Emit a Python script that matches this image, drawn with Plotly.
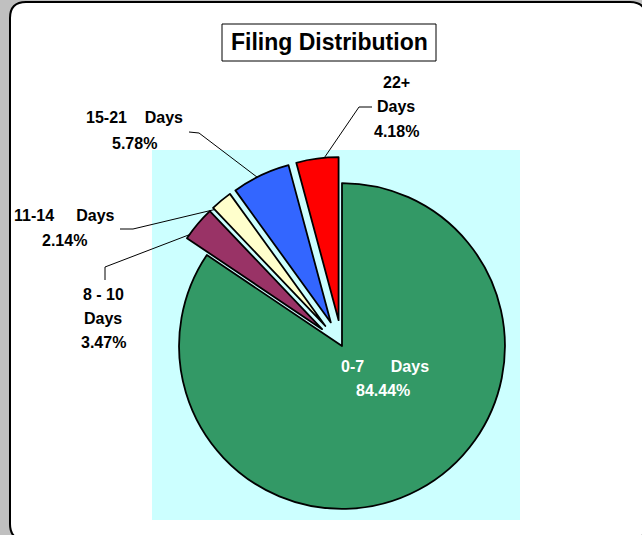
import math
import plotly.graph_objects as go

# ---------------- data ----------------
categories = ["0-7 Days", "8 - 10 Days", "11-14 Days", "15-21 Days", "22+ Days"]
values = [84.44, 3.47, 2.14, 5.78, 4.18]
colors = ["#339966", "#993366", "#FFFFCC", "#3366FF", "#FF0000"]
pulls = [0, 0.16, 0.16, 0.16, 0.16]
label_heads = [["0-7" + "\u00a0" * 6 + "Days"], ["8 - 10", "Days"], ["11-14" + "\u00a0" * 5 + "Days"],
               ["15-21" + "\u00a0" * 4 + "Days"], ["22+", "Days"]]
title_text = "Filing Distribution"

# ---------------- layout helpers ----------------
W, H = 642, 535
CX, CY = 342, 346           # pie centre in pixels
BOX_H = 2 * (H - CY)        # pie domain height (pixels)
BOX_W = 400


def px(x):
    return x / W


def py(y):
    return 1 - y / H


fig = go.Figure()
fig.add_trace(go.Pie(
    labels=categories, values=values, sort=False, direction="clockwise", rotation=0,
    marker=dict(colors=colors, line=dict(color="black", width=1.8)),
    pull=pulls, textinfo="none", hoverinfo="label+percent", showlegend=False,
    domain=dict(x=[px(CX - BOX_W / 2), px(CX + BOX_W / 2)], y=[0, BOX_H / H]),
))

R = min(BOX_W, BOX_H) / (2 + 2 * max(pulls))

shapes = []
# outer rounded frame
x0, x1, y0, y1, rc = 10, 646, 2, 540, 16
path = (f"M {px(x0)},{py(y0 + rc)} Q {px(x0)},{py(y0)} {px(x0 + rc)},{py(y0)} "
        f"L {px(x1 - rc)},{py(y0)} Q {px(x1)},{py(y0)} {px(x1)},{py(y0 + rc)} "
        f"L {px(x1)},{py(y1 - rc)} Q {px(x1)},{py(y1)} {px(x1 - rc)},{py(y1)} "
        f"L {px(x0 + rc)},{py(y1)} Q {px(x0)},{py(y1)} {px(x0)},{py(y1 - rc)} Z")
shapes.append(dict(type="path", xref="paper", yref="paper", path=path,
                   fillcolor="white", line=dict(color="black", width=2), layer="below"))
# plot area
shapes.append(dict(type="rect", xref="paper", yref="paper", x0=px(152), x1=px(520), y0=py(520), y1=py(150),
                   fillcolor="#CCFFFF", line=dict(width=0), layer="below"))
# title box
shapes.append(dict(type="rect", xref="paper", yref="paper", x0=px(222), x1=px(436), y0=py(61), y1=py(24),
                   fillcolor="white", line=dict(color="black", width=1), layer="below"))

# slice mid angles (clockwise from 12 o'clock)
total = sum(values)
mids = []
acc = 0
for v in values:
    mids.append((acc + v / 2) / total * 360)
    acc += v

# label placement (text line centres) and leader elbows
label_pos = {
    1: dict(x=103, y=[294, 318, 342], lead=[(105, 280), (105, 267)]),
    2: dict(x=64, y=[216, 240], lead=[(120, 229), (133, 229)]),
    3: dict(x=134, y=[118, 143], lead=[(189, 132), (199, 133)]),
    4: dict(x=396, y=[82, 107, 131], lead=[(372, 107), (359, 107)]),
}

annotations = []
font_lbl = dict(family="Liberation Sans, Arial, sans-serif", size=16, color="black", weight="bold")
for i, info in label_pos.items():
    lines = label_heads[i] + [f"{values[i]:.2f}%"]
    for t, yy in zip(lines, info["y"]):
        annotations.append(dict(xref="paper", yref="paper", x=px(info["x"]), y=py(yy), text=t,
                                showarrow=False, xanchor="center", yanchor="middle", font=font_lbl))
    th = math.radians(mids[i])
    dist = R * (1 + pulls[i]) - 8
    ex, ey = CX + dist * math.sin(th), CY - dist * math.cos(th)
    pts = info["lead"] + [(ex, ey)]
    p = "M " + " L ".join(f"{px(a)},{py(b)}" for a, b in pts)
    shapes.append(dict(type="path", xref="paper", yref="paper", path=p,
                       line=dict(color="black", width=1), layer="below"))

# label inside the big slice
font_in = dict(family="Liberation Sans, Arial, sans-serif", size=16, color="white", weight="bold")
for t, (xx, yy) in zip(label_heads[0] + [f"{values[0]:.2f}%"], [(385, 366), (383, 390)]):
    annotations.append(dict(xref="paper", yref="paper", x=px(xx), y=py(yy), text=t, showarrow=False,
                            xanchor="center", yanchor="middle", font=font_in))

# title
annotations.append(dict(xref="paper", yref="paper", x=px(329), y=py(42), text=title_text, showarrow=False,
                        xanchor="center", yanchor="middle",
                        font=dict(family="Liberation Sans, Arial, sans-serif", size=23, color="black",
                                  weight="bold")))

fig.update_layout(width=W, height=H, margin=dict(l=0, r=0, t=0, b=0),
                  paper_bgcolor="#C0C0C0", plot_bgcolor="#C0C0C0",
                  shapes=shapes, annotations=annotations, showlegend=False)
fig.write_html("out.html", config={"displayModeBar": False},
               post_script="document.body.style.margin='0';document.body.style.background='#C0C0C0';"
                           "document.body.style.overflow='hidden';")
